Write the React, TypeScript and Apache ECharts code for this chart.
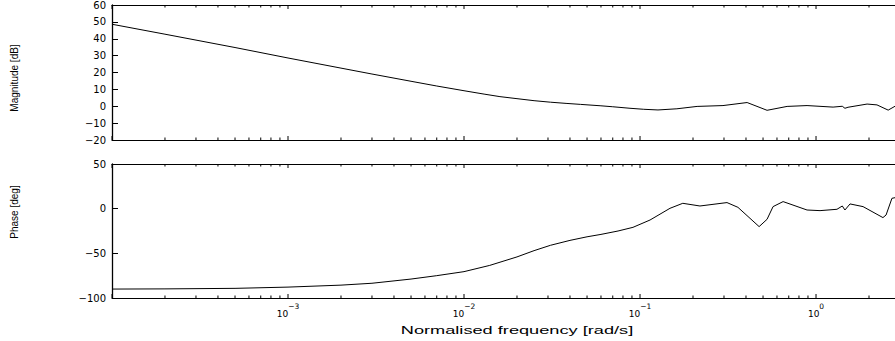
import { useEffect, useRef } from 'react';
import * as echarts from 'echarts';

// Magnitude response (frequency in rad/s, magnitude in dB)
const magFreq = [1e-4, 2e-4, 5e-4, 1e-3, 2e-3, 3e-3, 5e-3, 7e-3, 1e-2, 0.013, 0.016, 0.02, 0.025, 0.031, 0.038, 0.046, 0.0593, 0.07, 0.0877, 0.105, 0.1265, 0.162, 0.211, 0.296, 0.406, 0.527, 0.685, 0.889, 1.25, 1.41, 1.46, 1.52, 1.95, 2.22, 2.57, 2.81];
const magDb = [48.6, 42.7, 34.8, 28.6, 22.6, 19.1, 14.8, 12.0, 9.2, 7.2, 5.7, 4.5, 3.3, 2.4, 1.7, 1.1, 0.3, -0.3, -1.2, -1.8, -2.2, -1.5, -0.1, 0.4, 2.2, -2.4, -0.1, 0.4, -0.5, 0, -1.2, -0.6, 1.3, 0.8, -2.3, 0];

// Phase response (frequency in rad/s, phase in degrees)
const phaseFreq = [1e-4, 2e-4, 5e-4, 1e-3, 2e-3, 3e-3, 5e-3, 7e-3, 1e-2, 0.014, 0.02, 0.025, 0.031, 0.04, 0.05, 0.06, 0.075, 0.0912, 0.114, 0.148, 0.175, 0.219, 0.312, 0.36, 0.475, 0.527, 0.57, 0.65, 0.889, 1.054, 1.315, 1.41, 1.46, 1.56, 1.85, 2.4, 2.5, 2.7, 2.81];
const phaseDeg = [-90, -89.8, -89.2, -87.8, -85.6, -83.5, -78.8, -75, -70.5, -63.5, -54, -47, -41, -35.5, -31.5, -28.8, -25, -20.9, -12.7, 0.4, 6, 3, 6.8, 1.5, -20.1, -11.9, 2.3, 7.9, -1.5, -2.2, -0.7, 3, -1.5, 5.3, 2.3, -10, -7.1, 11.6, 12.3];

const xMin = 1e-4;
const xMax = 2.81;
const majorTicks = [1e-4, 1e-3, 1e-2, 1e-1, 1];
const labelTicks = [1e-3, 1e-2, 1e-1, 1];
const minorTicks: number[] = [];
for (let d = -4; d <= 0; d++) {
  for (let k = 2; k <= 9; k++) {
    const v = +(k * Math.pow(10, d)).toPrecision(3);
    if (v < xMax) minorTicks.push(v);
  }
}
const tickData = [...majorTicks.map((v) => [v, 1]), ...minorTicks.map((v) => [v, 0])];

const magRange = { min: -20, max: 60, interval: 10 };
const phaseRange = { min: -100, max: 50, interval: 50 };

const xTitle = 'Normalised frequency [rad/s]';
const magTitle = 'Magnitude [dB]';
const phaseTitle = 'Phase [deg]';

const TICK_FONT = 'DejaVu Sans';
const TITLE_FONT = 'Liberation Sans';

function xAxis(grid: number, position: string, labels: boolean) {
  return {
    type: 'log',
    logBase: 10,
    gridIndex: grid,
    position,
    min: xMin,
    max: xMax,
    axisLine: { show: true, onZero: false, lineStyle: { color: '#000', width: 1 } },
    axisTick: { show: false },
    minorTick: { show: false },
    axisLabel: labels
      ? {
          show: true,
          customValues: labelTicks,
          margin: 4,
          formatter: (v: number) => {
            const e = Math.round(Math.log10(v));
            return `{b|10}{s|${e < 0 ? '\u2212' + -e : e}}`;
          },
          rich: {
            b: { fontFamily: TICK_FONT, fontSize: 9, color: '#000', lineHeight: 16, verticalAlign: 'bottom' },
            s: { fontFamily: TICK_FONT, fontSize: 7.5, color: '#000', lineHeight: 8, verticalAlign: 'top' },
          },
        }
      : { show: false },
    splitLine: { show: false },
  };
}

function yAxis(grid: number, r: { min: number; max: number; interval: number }) {
  return {
    type: 'value',
    gridIndex: grid,
    min: r.min,
    max: r.max,
    interval: r.interval,
    axisLine: { show: true, onZero: false, lineStyle: { color: '#000', width: 1.3 } },
    axisTick: { show: true, inside: true, length: 6, lineStyle: { color: '#000', width: 1 } },
    axisLabel: {
      margin: 6,
      fontFamily: TICK_FONT,
      fontSize: 10,
      color: '#000',
      formatter: (v: number) => (v < 0 ? '\u2212' + -v : String(v)),
    },
    splitLine: { show: false },
  };
}

function tickSeries(xIdx: number, yIdx: number, r: { min: number; max: number }) {
  return {
    type: 'custom',
    xAxisIndex: xIdx,
    yAxisIndex: yIdx,
    silent: true,
    clip: false,
    data: tickData,
    renderItem: (_params: any, api: any) => {
      const v = api.value(0);
      const len = api.value(1) ? 4 : 2.5;
      const b = api.coord([v, r.min]);
      const t = api.coord([v, r.max]);
      const style = { stroke: '#000', lineWidth: 1 };
      return {
        type: 'group',
        children: [
          { type: 'line', shape: { x1: b[0], y1: b[1], x2: b[0], y2: b[1] - len }, style },
          { type: 'line', shape: { x1: t[0], y1: t[1], x2: t[0], y2: t[1] + len }, style },
        ],
      };
    },
  };
}

export default function App() {
  const ref = useRef<HTMLDivElement>(null);
  useEffect(() => {
    if (!ref.current) return;
    const chart = echarts.init(ref.current, undefined, { renderer: 'svg' });
    chart.setOption({
      animation: false,
      backgroundColor: '#fff',
      grid: [
        { left: 112, top: 5, width: 783, height: 135 },
        { left: 112, top: 164, width: 783, height: 134 },
      ],
      xAxis: [
        xAxis(0, 'bottom', false),
        xAxis(0, 'top', false),
        xAxis(1, 'bottom', true),
        xAxis(1, 'top', false),
      ],
      yAxis: [yAxis(0, magRange), yAxis(1, phaseRange)],
      series: [
        tickSeries(0, 0, magRange),
        tickSeries(2, 1, phaseRange),
        {
          type: 'line',
          xAxisIndex: 0,
          yAxisIndex: 0,
          data: magFreq.map((f, i) => [f, magDb[i]]),
          symbol: 'none',
          lineStyle: { color: '#000', width: 1 },
        },
        {
          type: 'line',
          xAxisIndex: 2,
          yAxisIndex: 1,
          data: phaseFreq.map((f, i) => [f, phaseDeg[i]]),
          symbol: 'none',
          lineStyle: { color: '#000', width: 1 },
        },
      ],
      graphic: [
        {
          type: 'text',
          x: 517,
          y: 331,
          scaleX: 1.82,
          style: {
            text: xTitle,
            font: `10px "${TITLE_FONT}"`,
            fill: '#000',
            align: 'center',
            verticalAlign: 'middle',
            textAlign: 'center',
            textVerticalAlign: 'middle',
          },
        },
        {
          type: 'text',
          x: 14,
          y: 78,
          rotation: Math.PI / 2,
          style: {
            text: magTitle,
            font: `10px "${TITLE_FONT}"`,
            fill: '#000',
            align: 'center',
            verticalAlign: 'middle',
            textAlign: 'center',
            textVerticalAlign: 'middle',
          },
        },
        {
          type: 'text',
          x: 14,
          y: 212,
          rotation: Math.PI / 2,
          style: {
            text: phaseTitle,
            font: `10px "${TITLE_FONT}"`,
            fill: '#000',
            align: 'center',
            verticalAlign: 'middle',
            textAlign: 'center',
            textVerticalAlign: 'middle',
          },
        },
      ],
    });
    return () => chart.dispose();
  }, []);
  return <div ref={ref} style={{ position: 'fixed', left: 0, top: 0, width: 895, height: 341 }} />;
}
